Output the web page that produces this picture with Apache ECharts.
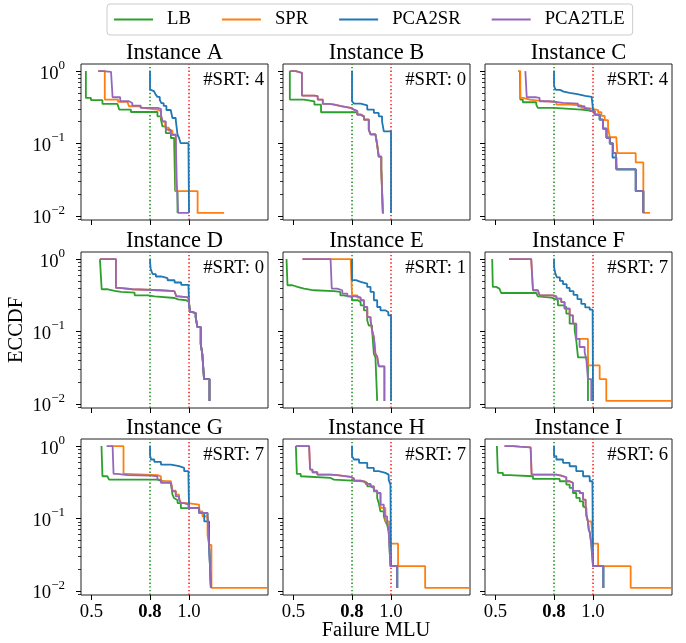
<!DOCTYPE html>
<html>
<head>
<meta charset="utf-8">
<script src="https://cdn.jsdelivr.net/npm/echarts@6/dist/echarts.min.js"></script>
<style>
  html, body { margin: 0; padding: 0; background: #fff; }
  #chart-container { width: 686px; height: 643px; }
</style>
</head>
<body>
<div id="chart-container"></div>
<script>
var dom = document.getElementById("chart-container");
var myChart = echarts.init(dom, null, { renderer: "canvas" });

var FONT = "'Liberation Serif', 'Times New Roman', serif";

var methods = ["LB", "SPR", "PCA2SR", "PCA2TLE"];
var colors = ["#2ca02c", "#ff7f0e", "#1f77b4", "#9467bd"];
var instances = ["A", "B", "C", "D", "E", "F", "G", "H", "I"];
var srtCounts = [4, 0, 4, 0, 1, 7, 7, 7, 6];
var xTicks = [0.5, 0.8, 1.0];
var refLines = [0.8, 1.0];
var refColors = ["#008000", "#ff0000"];
var yMajorTicks = [0.01, 0.1, 1];
var yMinorTicks = [0.009, 0.02, 0.03, 0.04, 0.05, 0.06, 0.07, 0.08, 0.09,
  0.2, 0.3, 0.4, 0.5, 0.6, 0.7, 0.8, 0.9];

// ECCDF curves: [failure MLU, fraction of scenarios above]
var lbA = [[0.471,1],[0.471,0.426],[0.497,0.396],[0.556,0.352],[0.633,0.334],[0.642,0.294],[0.702,0.272],[0.838,0.237],[0.856,0.213],[0.864,0.172],[0.881,0.139],[0.907,0.119],[0.924,0.096],[0.929,0.022],[0.941,0.011]];
var sprA = [[0.534,1],[0.568,0.404],[0.636,0.375],[0.684,0.363],[0.692,0.327],[0.744,0.31],[0.761,0.294],[0.838,0.28],[0.856,0.24],[0.866,0.2],[0.878,0.165],[0.897,0.15],[0.915,0.132],[0.932,0.022],[1.044,0.011],[1.18,0.011]];
var srA = [[0.8,1],[0.8,0.556],[0.806,0.53],[0.82,0.5],[0.83,0.47],[0.838,0.44],[0.85,0.4],[0.858,0.36],[0.87,0.33],[0.884,0.29],[0.906,0.28],[0.915,0.225],[0.932,0.21],[0.941,0.132],[0.949,0.119],[0.957,0.101],[0.997,0.096],[1.0,0.011]];
var tleA = [[0.534,1],[0.56,0.978],[0.6,0.956],[0.608,0.435],[0.647,0.383],[0.692,0.363],[0.709,0.334],[0.752,0.31],[0.838,0.3],[0.856,0.25],[0.864,0.202],[0.881,0.155],[0.907,0.132],[0.932,0.119],[0.937,0.03],[0.944,0.011],[1.0,0.011]];

var lbB = [[0.481,1],[0.481,0.404],[0.554,0.383],[0.607,0.344],[0.641,0.27],[0.827,0.25],[0.844,0.237],[0.861,0.213],[0.886,0.155],[0.895,0.134],[0.92,0.13],[0.929,0.096],[0.937,0.066],[0.95,0.045],[0.958,0.011]];
var sprB = [[0.481,1],[0.512,0.948],[0.543,0.928],[0.543,0.459],[0.607,0.45],[0.624,0.404],[0.65,0.352],[0.684,0.344],[0.71,0.327],[0.743,0.31],[0.793,0.294],[0.81,0.28],[0.827,0.25],[0.844,0.237],[0.861,0.213],[0.886,0.155],[0.895,0.134],[0.92,0.13],[0.929,0.096],[0.937,0.066],[0.95,0.045],[0.958,0.011],[0.963,0.011]];
var srB = [[0.8,1],[0.8,0.383],[0.81,0.356],[0.844,0.335],[0.878,0.294],[0.912,0.264],[0.937,0.237],[0.954,0.202],[0.963,0.147],[1.0,0.011]];
var tleB = [[0.481,1],[0.512,0.948],[0.543,0.928],[0.543,0.459],[0.607,0.45],[0.624,0.404],[0.65,0.352],[0.684,0.344],[0.71,0.327],[0.743,0.31],[0.793,0.294],[0.81,0.28],[0.827,0.25],[0.844,0.237],[0.861,0.213],[0.886,0.155],[0.895,0.134],[0.92,0.13],[0.929,0.096],[0.937,0.066],[0.95,0.045],[0.958,0.011],[0.963,0.011]];

var lbC = [[0.625,1],[0.627,0.404],[0.64,0.371],[0.709,0.344],[0.717,0.31],[0.8,0.294],[0.94,0.28],[1.009,0.25],[1.034,0.213],[1.051,0.16],[1.069,0.12],[1.086,0.1],[1.103,0.074],[1.117,0.065],[1.12,0.044],[1.219,0.022],[1.258,0.011]];
var sprC = [[0.615,1],[0.627,0.426],[0.641,0.404],[0.675,0.395],[0.709,0.383],[0.752,0.375],[0.812,0.344],[0.88,0.335],[0.94,0.31],[0.966,0.3],[1.0,0.29],[1.026,0.27],[1.043,0.24],[1.06,0.21],[1.077,0.163],[1.086,0.122],[1.12,0.11],[1.125,0.0735],[1.219,0.0547],[1.258,0.011],[1.292,0.011]];
var srC = [[0.8,1],[0.8,0.65],[0.803,0.59],[0.81,0.55],[0.83,0.52],[0.85,0.5],[0.88,0.48],[0.92,0.455],[0.96,0.44],[0.993,0.42],[1.0,0.294],[1.009,0.25],[1.034,0.213],[1.051,0.16],[1.069,0.12],[1.086,0.1],[1.1,0.064],[1.12,0.044],[1.219,0.022],[1.258,0.011]];
var tleC = [[0.653,1],[0.66,0.435],[0.709,0.426],[0.726,0.383],[0.777,0.363],[0.846,0.355],[0.923,0.327],[0.957,0.3],[0.983,0.28],[1.009,0.25],[1.034,0.213],[1.051,0.16],[1.069,0.12],[1.086,0.1],[1.103,0.074],[1.117,0.065],[1.12,0.044],[1.219,0.022],[1.258,0.011]];

var lbD = [[0.543,1],[0.552,0.383],[0.584,0.363],[0.618,0.352],[0.652,0.344],[0.721,0.316],[0.79,0.306],[0.824,0.29],[0.926,0.278],[0.943,0.27],[0.985,0.255],[1.0,0.242],[1.005,0.185],[1.017,0.18],[1.034,0.158],[1.043,0.115],[1.06,0.067],[1.068,0.049],[1.077,0.022],[1.105,0.011]];
var sprD = [[0.543,1],[0.625,0.99],[0.625,0.4],[0.642,0.383],[0.71,0.371],[0.85,0.36],[0.925,0.35],[0.935,0.306],[0.948,0.295],[0.996,0.284],[1.0,0.242],[1.005,0.185],[1.017,0.18],[1.034,0.158],[1.043,0.115],[1.06,0.067],[1.068,0.049],[1.077,0.022],[1.105,0.011]];
var srD = [[0.8,1],[0.801,0.85],[0.803,0.75],[0.807,0.68],[0.814,0.62],[0.83,0.575],[0.857,0.545],[0.89,0.51],[0.926,0.475],[0.96,0.44],[0.997,0.42],[1.0,0.242],[1.005,0.185],[1.017,0.18],[1.034,0.158],[1.043,0.115],[1.06,0.067],[1.068,0.049],[1.077,0.022],[1.105,0.011]];
var tleD = [[0.543,1],[0.625,0.99],[0.625,0.4],[0.642,0.383],[0.71,0.371],[0.85,0.36],[0.925,0.35],[0.935,0.306],[0.948,0.295],[0.996,0.284],[1.0,0.242],[1.005,0.185],[1.017,0.18],[1.034,0.158],[1.043,0.115],[1.06,0.067],[1.068,0.049],[1.077,0.022],[1.105,0.011]];

var lbE = [[0.464,1],[0.469,0.435],[0.495,0.413],[0.52,0.391],[0.554,0.371],[0.605,0.36],[0.707,0.352],[0.74,0.316],[0.757,0.3],[0.8,0.27],[0.83,0.255],[0.844,0.23],[0.861,0.196],[0.878,0.142],[0.886,0.121],[0.903,0.103],[0.912,0.049],[0.92,0.044],[0.929,0.011]];
var sprE = [[0.546,1],[0.793,0.985],[0.8,0.316],[0.827,0.294],[0.844,0.27],[0.861,0.218],[0.878,0.158],[0.895,0.142],[0.903,0.103],[0.912,0.083],[0.92,0.049],[0.929,0.045],[0.937,0.033],[0.966,0.011]];
var srE = [[0.8,1],[0.8,0.511],[0.82,0.484],[0.844,0.459],[0.878,0.413],[0.895,0.352],[0.912,0.27],[0.929,0.218],[0.946,0.196],[0.97,0.186],[0.986,0.167],[1.0,0.011]];
var tleE = [[0.546,1],[0.69,0.95],[0.696,0.391],[0.724,0.371],[0.75,0.334],[0.776,0.306],[0.827,0.294],[0.844,0.27],[0.861,0.218],[0.878,0.158],[0.895,0.142],[0.903,0.103],[0.912,0.083],[0.92,0.049],[0.929,0.045],[0.937,0.033],[0.966,0.011]];

var lbF = [[0.483,1],[0.486,0.413],[0.503,0.391],[0.52,0.371],[0.529,0.34],[0.709,0.32],[0.717,0.306],[0.726,0.294],[0.786,0.284],[0.803,0.27],[0.82,0.23],[0.846,0.218],[0.863,0.176],[0.88,0.128],[0.906,0.103],[0.914,0.075],[0.923,0.044],[0.974,0.011]];
var sprF = [[0.569,1],[0.683,0.97],[0.692,0.371],[0.717,0.352],[0.726,0.316],[0.795,0.306],[0.812,0.284],[0.837,0.255],[0.854,0.207],[0.88,0.167],[0.897,0.128],[0.914,0.079],[0.974,0.034],[1.034,0.022],[1.068,0.011],[1.4,0.011]];
var srF = [[0.8,1],[0.8,0.8],[0.803,0.7],[0.808,0.62],[0.815,0.56],[0.83,0.5],[0.846,0.45],[0.865,0.4],[0.88,0.36],[0.9,0.32],[0.92,0.28],[0.94,0.24],[0.96,0.215],[0.983,0.2],[0.998,0.18],[1.0,0.011]];
var tleF = [[0.569,1],[0.683,0.97],[0.692,0.371],[0.717,0.352],[0.726,0.316],[0.795,0.306],[0.812,0.284],[0.837,0.255],[0.854,0.207],[0.88,0.167],[0.897,0.128],[0.914,0.079],[0.931,0.061],[0.957,0.052],[0.966,0.04],[0.974,0.022],[0.991,0.011]];

var lbG = [[0.551,1],[0.556,0.383],[0.581,0.363],[0.59,0.344],[0.838,0.33],[0.856,0.31],[0.907,0.294],[0.915,0.213],[0.924,0.19],[0.932,0.18],[0.941,0.163],[0.958,0.139],[1.052,0.119],[1.095,0.107],[1.103,0.043],[1.112,0.011]];
var sprG = [[0.599,1],[0.664,0.98],[0.664,0.413],[0.676,0.396],[0.838,0.383],[0.856,0.327],[0.907,0.32],[0.915,0.242],[0.932,0.213],[0.949,0.192],[0.958,0.163],[0.992,0.16],[1.0,0.155],[1.052,0.125],[1.069,0.107],[1.095,0.059],[1.103,0.043],[1.115,0.011],[1.4,0.011]];
var srG = [[0.8,1],[0.8,0.75],[0.805,0.653],[0.822,0.606],[0.856,0.556],[0.907,0.527],[0.949,0.5],[0.975,0.45],[0.997,0.383],[1.0,0.139],[1.052,0.119],[1.078,0.091],[1.103,0.043],[1.112,0.011]];
var tleG = [[0.577,1],[0.608,0.978],[0.613,0.413],[0.633,0.396],[0.684,0.39],[0.803,0.383],[0.838,0.344],[0.856,0.31],[0.907,0.3],[0.915,0.237],[0.932,0.202],[0.949,0.182],[0.958,0.163],[0.975,0.155],[0.997,0.139],[1.052,0.119],[1.095,0.107],[1.103,0.043],[1.112,0.011],[1.115,0.011]];

var lbH = [[0.512,1],[0.517,0.413],[0.537,0.383],[0.546,0.363],[0.69,0.344],[0.707,0.334],[0.8,0.327],[0.853,0.31],[0.878,0.278],[0.895,0.264],[0.912,0.237],[0.929,0.192],[0.937,0.163],[0.946,0.125],[0.963,0.107],[0.971,0.091],[0.98,0.082],[0.988,0.066],[0.997,0.022],[1.032,0.011]];
var sprH = [[0.512,1],[0.58,0.948],[0.585,0.474],[0.597,0.435],[0.622,0.404],[0.69,0.396],[0.724,0.375],[0.793,0.356],[0.81,0.334],[0.844,0.32],[0.87,0.3],[0.895,0.278],[0.912,0.242],[0.929,0.225],[0.946,0.14],[0.971,0.091],[0.991,0.045],[1.036,0.022],[1.175,0.011],[1.4,0.011]];
var srH = [[0.8,1],[0.8,0.726],[0.81,0.653],[0.836,0.587],[0.878,0.5],[0.912,0.45],[0.937,0.426],[0.971,0.404],[0.988,0.344],[0.997,0.294],[1.0,0.022],[1.032,0.011]];
var tleH = [[0.512,1],[0.58,0.948],[0.585,0.474],[0.597,0.435],[0.622,0.404],[0.69,0.396],[0.724,0.375],[0.793,0.356],[0.81,0.334],[0.844,0.32],[0.87,0.3],[0.895,0.278],[0.912,0.242],[0.929,0.225],[0.946,0.155],[0.963,0.139],[0.968,0.107],[0.98,0.091],[0.988,0.066],[0.997,0.022],[1.032,0.011]];

var lbI = [[0.507,1],[0.512,0.426],[0.538,0.396],[0.572,0.383],[0.692,0.352],[0.829,0.327],[0.863,0.294],[0.88,0.264],[0.897,0.225],[0.914,0.192],[0.932,0.172],[0.949,0.147],[0.957,0.14],[0.966,0.107],[0.974,0.091],[0.978,0.07],[0.983,0.065],[0.991,0.045],[1.0,0.022],[1.053,0.011]];
var sprI = [[0.546,1],[0.589,0.98],[0.623,0.96],[0.68,0.94],[0.685,0.404],[0.812,0.39],[0.837,0.371],[0.863,0.327],[0.88,0.31],[0.897,0.24],[0.932,0.225],[0.949,0.182],[0.962,0.147],[0.966,0.113],[0.974,0.091],[0.991,0.091],[1.0,0.045],[1.026,0.022],[1.193,0.011],[1.4,0.011]];
var srI = [[0.8,1],[0.8,0.726],[0.812,0.653],[0.846,0.587],[0.88,0.527],[0.914,0.45],[0.949,0.383],[0.983,0.327],[0.997,0.278],[1.0,0.022],[1.053,0.011]];
var tleI = [[0.546,1],[0.589,0.98],[0.623,0.96],[0.68,0.94],[0.685,0.404],[0.812,0.39],[0.837,0.371],[0.863,0.327],[0.88,0.31],[0.897,0.24],[0.932,0.225],[0.949,0.182],[0.962,0.147],[0.966,0.113],[0.974,0.091],[0.978,0.07],[0.983,0.065],[0.991,0.045],[1.0,0.022],[1.053,0.011]];

var curves = [
  [lbA, sprA, srA, tleA], [lbB, sprB, srB, tleB], [lbC, sprC, srC, tleC],
  [lbD, sprD, srD, tleD], [lbE, sprE, srE, tleE], [lbF, sprF, srF, tleF],
  [lbG, sprG, srG, tleG], [lbH, sprH, srH, tleH], [lbI, sprI, srI, tleI]
];

// layout of the 3x3 panels (pixels)
var colLeft = [81, 283, 485];
var rowTop = [64, 252, 439];
var W = 187, H = 156;
var X_MIN = 0.446, X_MAX = 1.405;
var Y_MIN = 0.00877, Y_MAX = 1.253;

var grids = [], xAxes = [], yAxes = [], series = [], titles = [];

instances.forEach(function (inst, p) {
  var r = Math.floor(p / 3), c = p % 3;
  grids.push({
    left: colLeft[c], top: rowTop[r], width: W, height: H,
    show: true, borderColor: "#222", borderWidth: 1, backgroundColor: "transparent"
  });
  xAxes.push({
    type: "value", gridIndex: p, min: X_MIN, max: X_MAX,
    axisLine: { show: false }, splitLine: { show: false },
    axisTick: { show: true, customValues: xTicks, length: 5, lineStyle: { color: "#000", width: 1 } },
    axisLabel: {
      show: r === 2, customValues: xTicks, margin: 8,
      fontFamily: FONT, fontSize: 18.7, color: "#000",
      formatter: function (v) {
        return Math.abs(v - 0.8) < 1e-9 ? "{bd|0.8}" : v.toFixed(1);
      },
      rich: { bd: { fontFamily: FONT, fontSize: 18.7, fontWeight: "bold", color: "#000" } }
    }
  });
  yAxes.push({
    type: "log", gridIndex: p, min: Y_MIN, max: Y_MAX, position: "left",
    axisLine: { show: false }, splitLine: { show: false },
    axisTick: { show: true, customValues: yMajorTicks, length: 5, lineStyle: { color: "#000", width: 1 } },
    axisLabel: {
      show: c === 0, customValues: yMajorTicks, margin: 16,
      formatter: function (v) {
        var e = Math.round(Math.log10(v));
        return "{b|10}{s|" + (e < 0 ? "\u2212" + (-e) : e) + "}";
      },
      rich: {
        b: { fontFamily: FONT, fontSize: 18.7, color: "#000", lineHeight: 24, verticalAlign: "bottom" },
        s: { fontFamily: FONT, fontSize: 13, color: "#000", lineHeight: 13, verticalAlign: "top" }
      }
    }
  });
  yAxes.push({
    type: "log", gridIndex: p, min: Y_MIN, max: Y_MAX, position: "left",
    axisLine: { show: false }, splitLine: { show: false }, axisLabel: { show: false },
    axisTick: { show: true, customValues: yMinorTicks, length: 3, lineStyle: { color: "#000", width: 0.8 } }
  });

  titles.push({
    text: "Instance " + inst, left: colLeft[c] + W / 2, top: rowTop[r] - 22,
    textAlign: "center", padding: 0,
    textStyle: { fontFamily: FONT, fontSize: 22.5, fontWeight: "normal", color: "#000" }
  });
  titles.push({
    text: "#SRT: " + srtCounts[p], left: colLeft[c] + W - 4, top: rowTop[r] + 7,
    textAlign: "right", padding: 0,
    textStyle: { fontFamily: FONT, fontSize: 18.7, fontWeight: "normal", color: "#000" }
  });

  // dotted reference lines at MLU 0.8 and 1.0, spanning the whole y range
  refLines.forEach(function (xv, k) {
    series.push({
      name: "ref" + k, type: "line", xAxisIndex: p, yAxisIndex: 2 * p,
      data: [[xv, Y_MIN], [xv, Y_MAX]], symbol: "none", showSymbol: false,
      color: refColors[k],
      lineStyle: { color: refColors[k], type: [1.4, 2.3], width: 1.4 },
      silent: true
    });
  });

  methods.forEach(function (name, m) {
    series.push({
      name: name, type: "line", xAxisIndex: p, yAxisIndex: 2 * p,
      data: curves[p][m], step: "end", symbol: "none", showSymbol: false,
      color: colors[m],
      lineStyle: { width: 1.8, color: colors[m] }, itemStyle: { color: colors[m] },
      silent: true
    });
  });
});

var option = {
  animation: false,
  backgroundColor: "#fff",
  title: titles,
  legend: {
    data: methods.map(function (n) { return { name: n, icon: "rect" }; }),
    left: 107, top: 4, padding: [6, 8, 6, 7],
    itemWidth: 39, itemHeight: 2, itemGap: 31,
    borderColor: "#ccc", borderWidth: 1, borderRadius: 3,
    textStyle: { fontFamily: FONT, fontSize: 18.7, color: "#000", padding: [0, 0, 0, 9] }
  },
  grid: grids,
  xAxis: xAxes,
  yAxis: yAxes,
  series: series,
  graphic: [
    {
      type: "text", x: 17, y: 330, rotation: Math.PI / 2,
      style: { text: "ECCDF", fontFamily: FONT, fontSize: 20.5, fill: "#000", textAlign: "center", textVerticalAlign: "middle" }
    },
    {
      type: "text", x: 376, y: 631,
      style: { text: "Failure MLU", fontFamily: FONT, fontSize: 20.5, fill: "#000", textAlign: "center", textVerticalAlign: "middle" }
    }
  ]
};

myChart.setOption(option);

window.addEventListener("resize", function () {
  myChart.resize();
});
</script>
</body>
</html>
